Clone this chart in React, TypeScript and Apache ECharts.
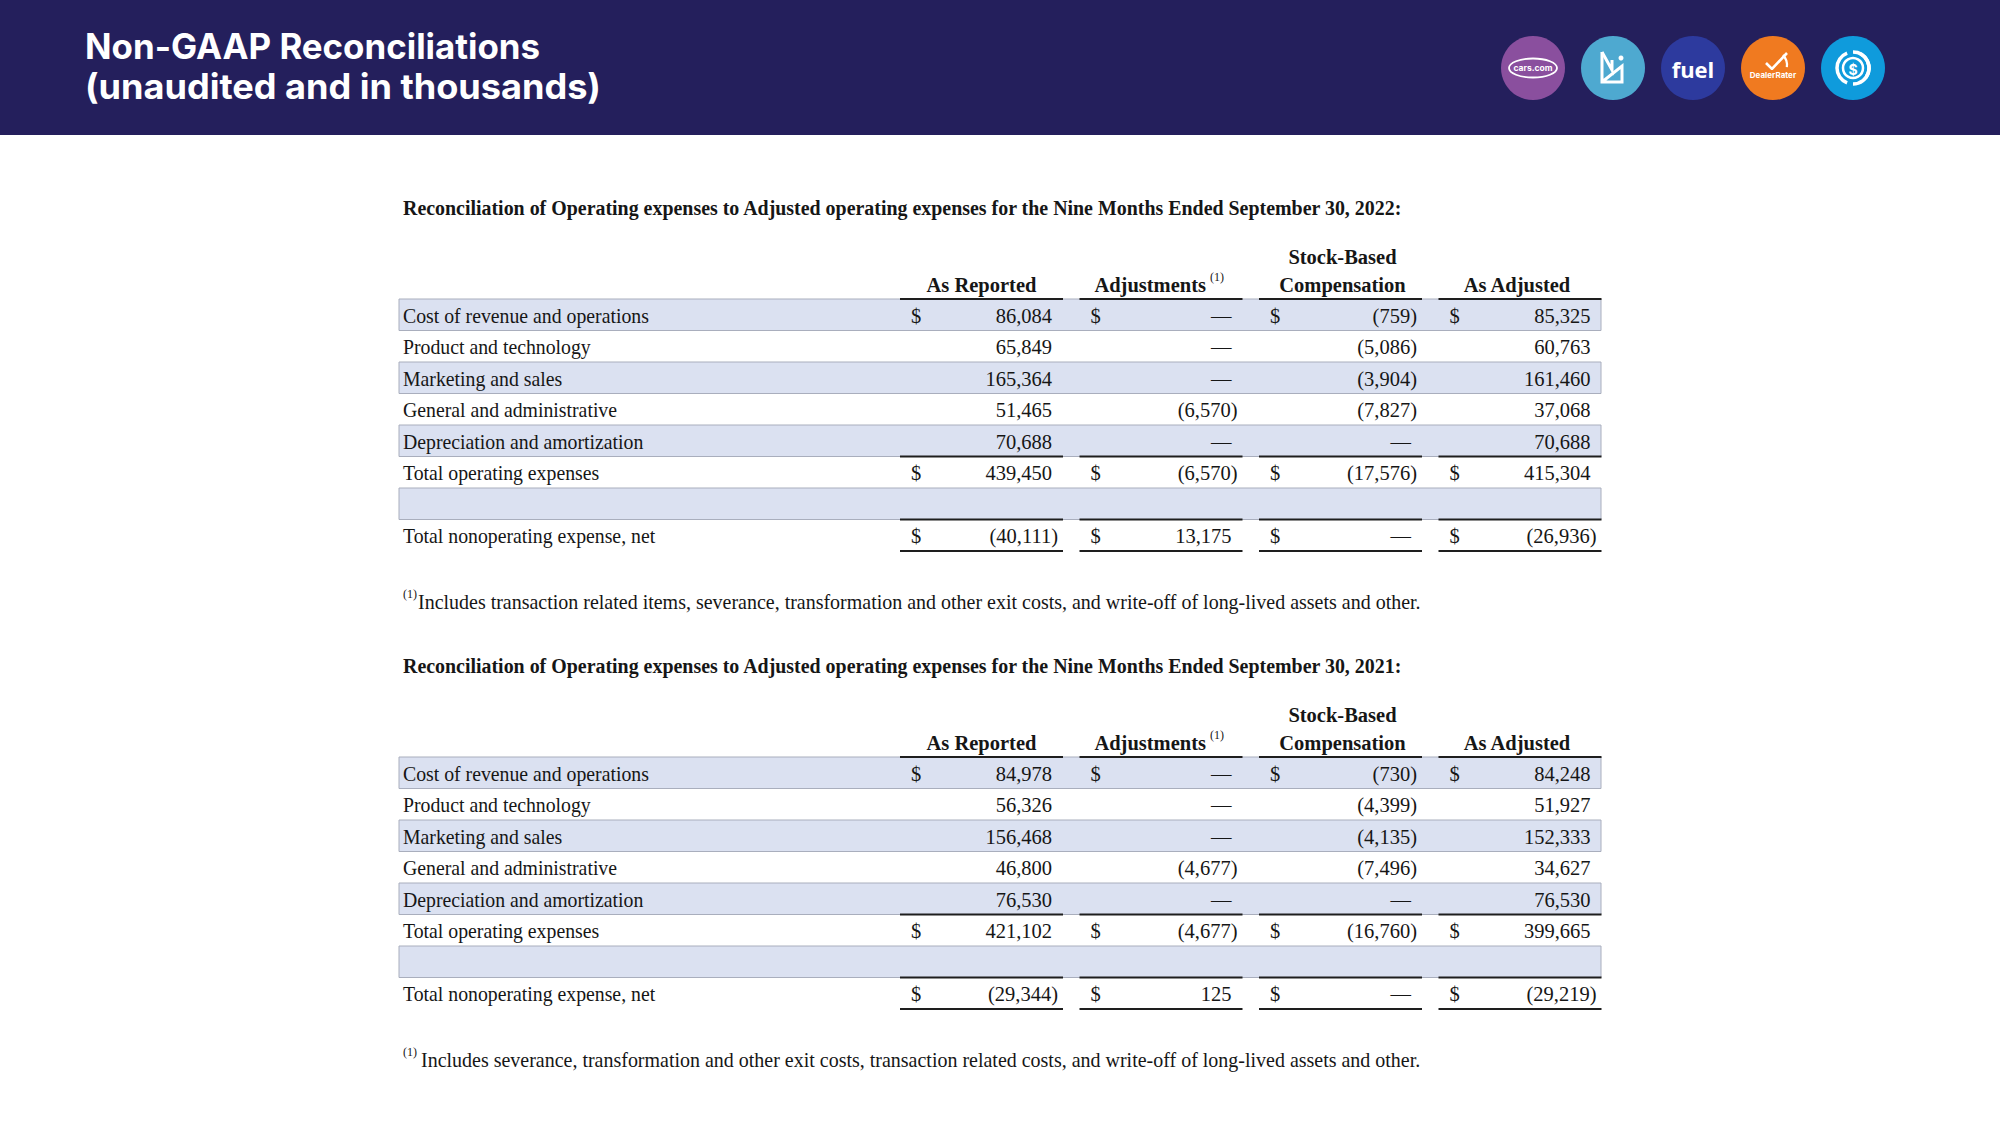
import React, { useEffect, useRef } from "react";
import * as echarts from "echarts";

// ---------- content ----------
const slideTitle = ["Non-GAAP Reconciliations", "(unaudited and in thousands)"];
const tableTitles = [
  "Reconciliation of Operating expenses to Adjusted operating expenses for the Nine Months Ended September 30, 2022:",
  "Reconciliation of Operating expenses to Adjusted operating expenses for the Nine Months Ended September 30, 2021:",
];
const footnotes = [
  "Includes transaction related items, severance, transformation and other exit costs, and write-off of long-lived assets and other.",
  "Includes severance, transformation and other exit costs, transaction related costs, and write-off of long-lived assets and other.",
];
const rowLabels = [
  "Cost of revenue and operations",
  "Product and technology",
  "Marketing and sales",
  "General and administrative",
  "Depreciation and amortization",
  "Total operating expenses",
  "",
  "Total nonoperating expense, net",
];
const columnHeaders = ["As Reported", "Adjustments", "Stock-Based Compensation", "As Adjusted"];

// 2022 (null = blank spacer row, 0 = dash)
const asReported2022 = [86084, 65849, 165364, 51465, 70688, 439450, null, -40111];
const adjustments2022 = [0, 0, 0, -6570, 0, -6570, null, 13175];
const stockComp2022 = [-759, -5086, -3904, -7827, 0, -17576, null, 0];
const asAdjusted2022 = [85325, 60763, 161460, 37068, 70688, 415304, null, -26936];

// 2021
const asReported2021 = [84978, 56326, 156468, 46800, 76530, 421102, null, -29344];
const adjustments2021 = [0, 0, 0, -4677, 0, -4677, null, 125];
const stockComp2021 = [-730, -4399, -4135, -7496, 0, -16760, null, 0];
const asAdjusted2021 = [84248, 51927, 152333, 34627, 76530, 399665, null, -29219];

const tables = [
  [asReported2022, adjustments2022, stockComp2022, asAdjusted2022],
  [asReported2021, adjustments2021, stockComp2021, asAdjusted2021],
];

// ---------- layout / style ----------
const SERIF = '"Liberation Serif", "Times New Roman", serif';
const SANS = 'Inter, "Open Sans", sans-serif';
const INK = "#161616";
const NAVY = "#241f5c";
const BAND_FILL = "#dbe1f1";
const BAND_STROKE = "#a9aebd";
const RULE = "#1e1e1e";
const FS = 20.5;
const LABEL_SCALE = 0.965;

const TABLE_LEFT = 399;
const TABLE_W = 1202;
const TABLE_TOP = 299;
const ROW_H = 31.5;
const TABLE_SHIFT = 458;
const COL_LEFT = [501, 680.5, 860, 1039.5];
const COL_W = 163;
const NUM_RIGHT = 152;
const DOLLAR_X = 11;

const bandRows = [0, 2, 4, 6];
const dollarRows = [0, 5, 7];
const ruleTopRows = [0, 7];
const ruleBottomRows = [4, 7];

let measureCtx: CanvasRenderingContext2D | null = null;
function measure(text: string, font: string) {
  if (!measureCtx) measureCtx = document.createElement("canvas").getContext("2d");
  if (!measureCtx) return 1;
  measureCtx.font = font;
  return measureCtx.measureText(text).width || 1;
}
function fit(text: string, font: string, target: number) {
  return target / measure(text, font);
}

function fmt(v: number) {
  if (v === 0) return "\u2014";
  if (v < 0) return "(" + Math.abs(v).toLocaleString("en-US") + ")";
  return v.toLocaleString("en-US");
}

function makeRenderItem(cols: (number | null)[][]) {
  return (params: any, api: any) => {
    const r = api.value(1) as number;
    const X = (rel: number) => api.coord([rel, r])[0];
    const cy = api.coord([0, r])[1];
    const h = api.size([0, 1])[1];
    const top = cy - h / 2;
    const bottom = cy + h / 2;
    const children: any[] = [];
    if (bandRows.includes(r)) {
      children.push({
        type: "rect",
        shape: { x: X(0), y: top, width: X(TABLE_W) - X(0), height: h },
        style: { fill: BAND_FILL, stroke: BAND_STROKE, lineWidth: 1 },
      });
    }
    if (rowLabels[r]) {
      children.push({
        type: "text",
        x: X(4),
        y: cy + 1,
        scaleX: LABEL_SCALE,
        style: {
          x: 0, y: 0, text: rowLabels[r], fill: INK,
          fontSize: FS, fontFamily: SERIF, align: "left", verticalAlign: "middle",
        },
      });
    }
    cols.forEach((vals, k) => {
      const v = vals[r];
      const cl = COL_LEFT[k];
      if (v !== null && v !== undefined) {
        if (dollarRows.includes(r)) {
          children.push({
            type: "text",
            style: {
              x: X(cl + DOLLAR_X), y: cy + 1, text: "$", fill: INK,
              fontSize: FS, fontFamily: SERIF, align: "left", verticalAlign: "middle",
            },
          });
        }
        children.push({
          type: "text",
          style: {
            x: X(cl + NUM_RIGHT + (v < 0 ? 6 : 0)), y: cy + 1, text: fmt(v), fill: INK,
            fontSize: FS, fontFamily: SERIF, align: "right", verticalAlign: "middle",
          },
        });
      }
      const rules: number[] = [];
      if (ruleTopRows.includes(r)) rules.push(top);
      if (ruleBottomRows.includes(r)) rules.push(bottom);
      rules.forEach((y) => {
        children.push({
          type: "line",
          shape: { x1: X(cl), y1: y, x2: X(cl + COL_W), y2: y },
          style: { stroke: RULE, lineWidth: 1.8 },
        });
      });
    });
    return { type: "group", children };
  };
}

function buildGraphic() {
  const g: any[] = [];
  g.push({ type: "rect", shape: { x: 0, y: 0, width: 2000, height: 135 }, style: { fill: NAVY }, z: 1 });
  const titleFont = `700 35px ${SANS}`;
  const titleW = [455, 516];
  const titleY = [46, 87];
  slideTitle.forEach((t, i) => {
    g.push({
      type: "text", x: 85, y: titleY[i], scaleX: fit(t, titleFont, titleW[i]), z: 2,
      style: { x: 0, y: 0, text: t, fill: "#ffffff", fontSize: 35, fontWeight: 700, fontFamily: SANS, align: "left", verticalAlign: "middle" },
    });
  });

  // logos
  const cx = [1533, 1613, 1693, 1773, 1853];
  const cy = 68;
  const R = 32;
  const logoColors = ["#8a4f9e", "#4ea9d0", "#2d3a9e", "#f07a20", "#0f9bdc"];
  logoColors.forEach((c, i) => {
    g.push({ type: "circle", shape: { cx: cx[i], cy, r: R }, style: { fill: c }, z: 2 });
  });
  // cars.com
  g.push({ type: "ellipse", shape: { cx: cx[0], cy, rx: 24, ry: 9.5 }, style: { fill: "none", stroke: "#fff", lineWidth: 1.8 }, z: 3 });
  g.push({ type: "text", z: 3, style: { x: cx[0], y: cy, text: "cars.com", fill: "#fff", fontSize: 8.5, fontWeight: 700, fontFamily: SANS, align: "center", verticalAlign: "middle" } });
  // second logo (M + triangle mark)
  g.push({ type: "polyline", z: 3, shape: { points: [[cx[1] - 11, cy - 16], [cx[1] - 11, cy + 14], [cx[1] + 9, cy + 14], [cx[1] + 9, cy - 2], [cx[1] - 11, cy + 14]] }, style: { stroke: "#fff", lineWidth: 3, fill: "none" } });
  g.push({ type: "polyline", z: 3, shape: { points: [[cx[1] - 11, cy - 16], [cx[1] - 1, cy + 2], [cx[1] - 1, cy - 8]] }, style: { stroke: "#fff", lineWidth: 3, fill: "none" } });
  g.push({ type: "circle", z: 3, shape: { cx: cx[1] + 8, cy: cy - 10, r: 2.5 }, style: { fill: "#fff" } });
  // fuel
  g.push({ type: "text", z: 3, style: { x: cx[2], y: cy + 1, text: "fuel", fill: "#fff", fontSize: 22, fontWeight: 700, fontFamily: '"Open Sans", sans-serif', align: "center", verticalAlign: "middle" } });
  // DealerRater
  g.push({ type: "arc", z: 3, shape: { cx: cx[3], cy: cy - 3, r: 14, startAngle: Math.PI * 0.05, endAngle: Math.PI * 1.75, clockwise: false }, style: { stroke: "#fff", lineWidth: 2.2, fill: "none" } });
  g.push({ type: "polyline", z: 3, shape: { points: [[cx[3] - 7, cy - 5], [cx[3] - 1, cy + 1], [cx[3] + 14, cy - 15]] }, style: { stroke: "#fff", lineWidth: 2.6, fill: "none" } });
  g.push({ type: "rect", z: 3, shape: { x: cx[3] - 22, y: cy + 2, width: 44, height: 10 }, style: { fill: logoColors[3] } });
  g.push({ type: "text", z: 4, style: { x: cx[3], y: cy + 7, text: "DealerRater", fill: "#fff", fontSize: 8, fontWeight: 700, fontFamily: SANS, align: "center", verticalAlign: "middle" } });
  // dollar ring
  [[-0.35, 0.5], [0.62, 1.38], [1.5, 2.2]].forEach(([s, e]) => {
    g.push({ type: "arc", z: 3, shape: { cx: cx[4], cy, r: 16, startAngle: Math.PI * s, endAngle: Math.PI * e }, style: { stroke: "#fff", lineWidth: 3.5, fill: "none" } });
  });
  g.push({ type: "circle", z: 3, shape: { cx: cx[4], cy, r: 10 }, style: { fill: "none", stroke: "#fff", lineWidth: 2.5 } });
  g.push({ type: "text", z: 3, style: { x: cx[4], y: cy + 1, text: "$", fill: "#fff", fontSize: 14, fontWeight: 700, fontFamily: SANS, align: "center", verticalAlign: "middle" } });

  // tables: titles, headers, footnotes
  const boldFont = `bold ${FS}px "Liberation Serif"`;
  const regFont = `${FS}px "Liberation Serif"`;
  for (let t = 0; t < 2; t++) {
    const dy = t * TABLE_SHIFT;
    g.push({
      type: "text", x: 403, y: 208 + dy, scaleX: fit(tableTitles[t], boldFont, 1001),
      style: { x: 0, y: 0, text: tableTitles[t], fill: INK, fontSize: FS, fontWeight: "bold", fontFamily: SERIF, align: "left", verticalAlign: "middle" },
    });
    const colCenter = (k: number) => TABLE_LEFT + COL_LEFT[k] + COL_W / 2;
    const hdrY = 285 + dy;
    const hdrStyle = { fill: INK, fontSize: FS, fontWeight: "bold", fontFamily: SERIF, verticalAlign: "middle" };
    g.push({ type: "text", style: { ...hdrStyle, x: colCenter(0), y: hdrY, text: columnHeaders[0], align: "center" } });
    g.push({ type: "text", style: { ...hdrStyle, x: colCenter(1) + 45, y: hdrY, text: columnHeaders[1], align: "right" } });
    g.push({ type: "text", style: { x: colCenter(1) + 49, y: hdrY - 8, text: "(1)", fill: INK, fontSize: 12, fontFamily: SERIF, align: "left", verticalAlign: "middle" } });
    const sbc = columnHeaders[2].split(" ");
    g.push({ type: "text", style: { ...hdrStyle, x: colCenter(2) + 2, y: hdrY - 28, text: sbc[0], align: "center" } });
    g.push({ type: "text", style: { ...hdrStyle, x: colCenter(2) + 2, y: hdrY, text: sbc[1], align: "center" } });
    g.push({ type: "text", style: { ...hdrStyle, x: colCenter(3) - 3, y: hdrY, text: columnHeaders[3], align: "center" } });

    // footnote
    const fnY = 602 + dy;
    g.push({ type: "text", style: { x: 403, y: fnY - 8, text: "(1)", fill: INK, fontSize: 12, fontFamily: SERIF, align: "left", verticalAlign: "middle" } });
    const fx = t === 0 ? 418 : 421;
    g.push({
      type: "text", x: fx, y: fnY, scaleX: fit(footnotes[t], regFont, 1421 - fx),
      style: { x: 0, y: 0, text: footnotes[t], fill: INK, fontSize: FS, fontFamily: SERIF, align: "left", verticalAlign: "middle" },
    });
  }
  return g;
}

export default function App() {
  const ref = useRef<HTMLDivElement>(null);
  useEffect(() => {
    if (!ref.current) return;
    const chart = echarts.init(ref.current, undefined, { renderer: "svg" });
    const grids = tables.map((_, t) => ({
      left: TABLE_LEFT, top: TABLE_TOP + t * TABLE_SHIFT, width: TABLE_W, height: ROW_H * rowLabels.length,
      containLabel: false, show: false,
    }));
    const xAxes = tables.map((_, t) => ({ type: "value", gridIndex: t, min: 0, max: TABLE_W, show: false }));
    const yAxes = tables.map((_, t) => ({
      type: "category", gridIndex: t, data: rowLabels.map((l, i) => l || `spacer${i}`), inverse: true, show: false,
    }));
    const series = tables.map((cols, t) => ({
      type: "custom",
      name: `table${t}`,
      xAxisIndex: t,
      yAxisIndex: t,
      coordinateSystem: "cartesian2d",
      clip: false,
      silent: true,
      data: rowLabels.map((_, i) => [0, i]),
      renderItem: makeRenderItem(cols),
    }));
    chart.setOption({
      animation: false,
      backgroundColor: "#ffffff",
      grid: grids,
      xAxis: xAxes,
      yAxis: yAxes,
      series,
      graphic: buildGraphic(),
    } as any);
    return () => chart.dispose();
  }, []);
  return (
    <div
      ref={ref}
      style={{ position: "fixed", left: 0, top: 0, width: 2000, height: 1125, background: "#fff" }}
    />
  );
}
